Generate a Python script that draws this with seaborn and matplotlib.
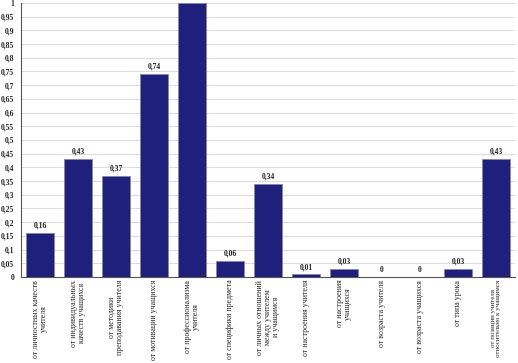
import matplotlib
matplotlib.use("Agg")
import matplotlib.pyplot as plt
import seaborn as sns
import pandas as pd
import numpy as np

categories = [
    "от личностных качеств\nучителя",
    "от индивидуальных\nкачеств учащихся",
    "от методики\nпреподавания учителя",
    "от мотивации учащихся",
    "от профессионализма\nучителя",
    "от специфики предмета",
    "от личных отношений\nмежду учителем\nи учащимся",
    "от настроения учителя",
    "от настроения\nучащихся",
    "от возраста учителя",
    "от возраста учащихся",
    "от типа урока",
    "от позиции учителя\nотносительно к учащимся",
]
values = [0.16, 0.43, 0.37, 0.74, 1.0, 0.06, 0.34, 0.01, 0.03, 0, 0, 0.03, 0.43]
value_labels = ["0,16", "0,43", "0,37", "0,74", "", "0,06", "0,34", "0,01", "0,03", "0", "0", "0,03", "0,43"]
yticks = [i * 0.05 for i in range(21)]

sns.set_theme(style="white")
plt.rcParams['font.family'] = ['Liberation Serif', 'DejaVu Serif']

df = pd.DataFrame({"cat": categories, "val": values})
fig = plt.figure(figsize=(5.18, 3.63), dpi=100)
ax = fig.add_axes([0.041, 0.237, 0.953, 0.755])

ax.set_axisbelow(True)
for y in yticks[1:]:
    ax.axhline(y, color="#dcdcdc", lw=0.8, zorder=0)

sns.barplot(data=df, x="cat", y="val", color="#1f1f7c", width=0.73,
            edgecolor="#8888aa", linewidth=0.6, saturation=1, ax=ax, zorder=2)

for i, (v, lab) in enumerate(zip(values, value_labels)):
    if lab:
        ax.text(i, v + 0.012, lab, ha="center", va="bottom", fontsize=5.5,
                fontweight="bold", color="#222222")

ax.set_xlim(-0.45, 12.45)
ax.set_ylim(0, 1.0)
ax.set_yticks(yticks)
ax.set_yticklabels([("%g" % round(t, 2)).replace(".", ",") for t in yticks],
                   fontsize=5.5, fontweight="bold")
ax.set_xticks(range(len(categories)))
ax.set_xticklabels(categories, rotation=90, fontsize=5.7, linespacing=1.0)
ax.get_xticklabels()[-1].set_fontsize(5.0)
ax.set_xticks(np.arange(-0.5, 12.6, 1.0), minor=True)
ax.tick_params(axis="x", which="major", length=0, pad=2)
ax.tick_params(axis="x", which="minor", length=3, width=0.6, direction="out", color="#555555")
ax.tick_params(axis="y", length=3, width=0.6, direction="out", color="#555555", pad=2)
ax.set_xlabel("")
ax.set_ylabel("")
for s in ["top", "right"]:
    ax.spines[s].set_visible(False)
for s in ["left", "bottom"]:
    ax.spines[s].set_color("#555555")
    ax.spines[s].set_linewidth(0.8)

fig.savefig("out.png", dpi=100)
